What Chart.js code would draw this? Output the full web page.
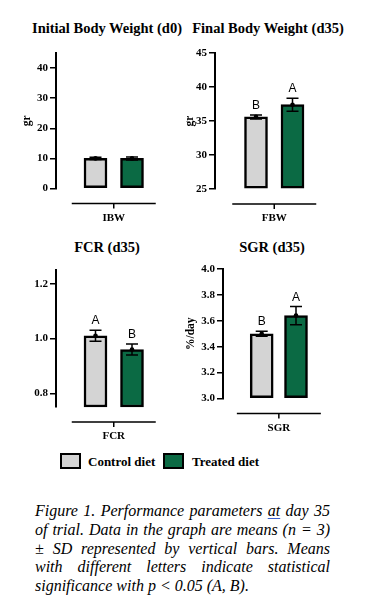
<!DOCTYPE html>
<html>
<head>
<meta charset="utf-8">
<script src="https://cdn.jsdelivr.net/npm/chart.js@4.4.1/dist/chart.umd.min.js"></script>
<style>
  body { margin: 0; background: #fff; width: 367px; height: 611px; position: relative; overflow: hidden; font-family: 'Liberation Serif', 'Times New Roman', serif; color: #000; }
  canvas { position: absolute; }
  .title { position: absolute; width: 200px; text-align: center; font-weight: bold; font-size: 14.5px; line-height: 16px; white-space: nowrap; }
  .lg-box { position: absolute; width: 17px; height: 12px; border: 2.5px solid #000; }
  .lg-txt { position: absolute; font-weight: bold; font-size: 13px; line-height: 16px; white-space: nowrap; }
  .cap { position: absolute; left: 35px; width: 295px; font-style: italic; font-size: 16px; line-height: 18.8px; }
  .cap div { text-align: justify; text-align-last: justify; white-space: nowrap; }
  .cap div.last { text-align-last: left; }
  .ul { text-decoration: underline; text-decoration-color: #3a5fcd; text-underline-offset: 2px; }
</style>
</head>
<body>

<div class="title" style="left:7px;top:20px">Initial Body Weight (d0)</div>
<div class="title" style="left:168px;top:20px">Final Body Weight (d35)</div>
<div class="title" style="left:7px;top:239px">FCR (d35)</div>
<div class="title" style="left:172px;top:239px">SGR (d35)</div>

<canvas id="ibw" width="183" height="190" style="left:0;top:40px"></canvas>
<canvas id="fbw" width="184" height="190" style="left:183px;top:40px"></canvas>
<canvas id="fcr" width="183" height="190" style="left:0;top:255px"></canvas>
<canvas id="sgr" width="184" height="190" style="left:183px;top:255px"></canvas>

<div id="legend"></div>

<div class="cap" style="top:502px">
  <div>Figure 1. Performance parameters <span class="ul">at</span> day 35</div>
  <div>of trial. Data in the graph are means (n = 3)</div>
  <div>± SD represented by vertical bars. Means</div>
  <div>with different letters indicate statistical</div>
  <div class="last">significance with p &lt; 0.05 (A, B).</div>
</div>

<script>
const groups = ['Control diet', 'Treated diet'];
const groupColors = ['#d4d4d4', '#0b6a44'];

// Initial body weight (d0)
const ibwMean = [10.0, 10.0];
const ibwSd = [0.4, 0.5];
const ibwLetters = ['', ''];
const ibwTicks = [0, 10, 20, 30, 40];
const ibwTickLabels = ['0', '10', '20', '30', '40'];

// Final body weight (d35)
const fbwMean = [35.6, 37.4];
const fbwSd = [0.3, 0.95];
const fbwLetters = ['B', 'A'];
const fbwTicks = [25, 30, 35, 40, 45];
const fbwTickLabels = ['25', '30', '35', '40', '45'];

// FCR (d35)
const fcrMean = [1.01, 0.96];
const fcrSd = [0.02, 0.02];
const fcrLetters = ['A', 'B'];
const fcrTicks = [0.8, 1.0, 1.2];
const fcrTickLabels = ['0.8', '1.0', '1.2'];

// SGR (d35)
const sgrMean = [3.50, 3.64];
const sgrSd = [0.02, 0.07];
const sgrLetters = ['B', 'A'];
const sgrTicks = [3.0, 3.2, 3.4, 3.6, 3.8, 4.0];
const sgrTickLabels = ['3.0', '3.2', '3.4', '3.6', '3.8', '4.0'];

// error bars, mean dot, significance letters, group bracket under the bars
const errorBars = {
  id: 'errorBars',
  afterDatasetsDraw(chart, args, opts) {
    const ctx = chart.ctx, y = chart.scales.y;
    const meta = chart.getDatasetMeta(0);
    const vals = chart.data.datasets[0].data;
    ctx.save();
    ctx.strokeStyle = '#000'; ctx.fillStyle = '#000'; ctx.lineWidth = 1.5;
    meta.data.forEach((bar, i) => {
      const v = vals[i].y, sd = opts.sd[i];
      const top = y.getPixelForValue(v + sd), bot = y.getPixelForValue(v - sd);
      const cx = bar.x;
      ctx.beginPath();
      ctx.moveTo(cx, top); ctx.lineTo(cx, bot);
      ctx.moveTo(cx - 6, top); ctx.lineTo(cx + 6, top);
      ctx.moveTo(cx - 6, bot); ctx.lineTo(cx + 6, bot);
      ctx.stroke();
      ctx.beginPath();
      ctx.arc(cx, y.getPixelForValue(v), 2.3, 0, Math.PI * 2);
      ctx.fill();
      const letter = opts.letters[i];
      if (letter) {
        ctx.font = '12px "Liberation Sans", Arial, sans-serif';
        ctx.textAlign = 'center'; ctx.textBaseline = 'alphabetic';
        ctx.fillText(letter, cx, top - 6);
      }
    });
    const mid = (meta.data[0].x + meta.data[meta.data.length - 1].x) / 2;
    const ly = chart.chartArea.bottom + 15;
    ctx.beginPath();
    ctx.moveTo(mid - 42, ly); ctx.lineTo(mid + 42, ly);
    ctx.moveTo(mid, ly); ctx.lineTo(mid, ly + 5);
    ctx.stroke();
    ctx.font = 'bold 11px "Liberation Serif", serif';
    ctx.textAlign = 'center'; ctx.textBaseline = 'middle';
    ctx.fillText(opts.group, mid, ly + 14.5);
    ctx.restore();
  }
};

function makePanel(id, p) {
  const xmin = -p.first / p.gap;
  const xmax = xmin + p.plotW / p.gap;
  const canvas = document.getElementById(id);
  return new Chart(canvas, {
    type: 'bar',
    data: {
      datasets: [{
        data: p.mean.map((v, i) => ({ x: i, y: v })),
        backgroundColor: groupColors,
        borderColor: '#000',
        borderWidth: 2.5,
        borderSkipped: false,
        barThickness: 23,
        base: p.min,
        clip: false,
      }]
    },
    options: {
      responsive: false,
      animation: false,
      layout: { padding: { left: 0, top: p.padTop, bottom: p.padBottom, right: canvas.width - p.axisX - p.plotW } },
      plugins: {
        legend: { display: false },
        tooltip: { enabled: false },
        errorBars: { sd: p.sd, letters: p.letters, group: p.group },
      },
      scales: {
        // linear index axis so the bars sit away from the y axis like the original
        x: { type: 'linear', display: false, offset: false, min: xmin, max: xmax },
        y: {
          min: p.min, max: p.max,
          afterFit: s => { s.width = p.axisX; },
          afterBuildTicks: s => { s.ticks = p.ticks.map(v => ({ value: v })); },
          ticks: {
            callback: (v, i) => p.tickLabels[i],
            color: '#000', padding: 2,
            font: { family: 'Liberation Serif', size: 11, weight: 'bold' },
          },
          grid: { drawOnChartArea: false, drawTicks: true, tickLength: 6, color: '#000', lineWidth: 1.5 },
          border: { display: true, color: '#000', width: 2 },
          title: {
            display: !!p.yTitle, text: p.yTitle, color: '#000',
            font: { family: 'Liberation Serif', size: 11.5, weight: 'bold' },
            padding: { top: p.titlePad, bottom: 0 },
          },
        },
      },
    },
    plugins: [errorBars],
  });
}

makePanel('ibw', { mean: ibwMean, sd: ibwSd, letters: ibwLetters, ticks: ibwTicks, tickLabels: ibwTickLabels,
  min: 0, max: 45, group: 'IBW', yTitle: 'gr', titlePad: 20,
  axisX: 56, plotW: 116, first: 39.5, gap: 36.5, padTop: 13, padBottom: 41.5 });

makePanel('fbw', { mean: fbwMean, sd: fbwSd, letters: fbwLetters, ticks: fbwTicks, tickLabels: fbwTickLabels,
  min: 25, max: 45, group: 'FBW', yTitle: 'gr', titlePad: 0.5,
  axisX: 32, plotW: 116, first: 41, gap: 36.5, padTop: 13, padBottom: 41 });

makePanel('fcr', { mean: fcrMean, sd: fcrSd, letters: fcrLetters, ticks: fcrTicks, tickLabels: fcrTickLabels,
  min: 0.75, max: 1.25, group: 'FCR', yTitle: '', titlePad: 0,
  axisX: 56, plotW: 116, first: 39.5, gap: 36.5, padTop: 15, padBottom: 38 });

makePanel('sgr', { mean: sgrMean, sd: sgrSd, letters: sgrLetters, ticks: sgrTicks, tickLabels: sgrTickLabels,
  min: 3.0, max: 4.0, group: 'SGR', yTitle: '%/day', titlePad: 1.5,
  axisX: 40, plotW: 116, first: 38.7, gap: 34.3, padTop: 14, padBottom: 46.5 });

// legend
const lg = document.getElementById('legend');
const lgPos = [{ box: 60, txt: 88 }, { box: 163, txt: 192 }];
lg.innerHTML = groups.map((g, i) =>
  `<div class="lg-box" style="left:${lgPos[i].box}px;top:453px;background:${groupColors[i]}"></div>` +
  `<div class="lg-txt" style="left:${lgPos[i].txt}px;top:454px">${g}</div>`
).join('');
</script>
</body>
</html>
